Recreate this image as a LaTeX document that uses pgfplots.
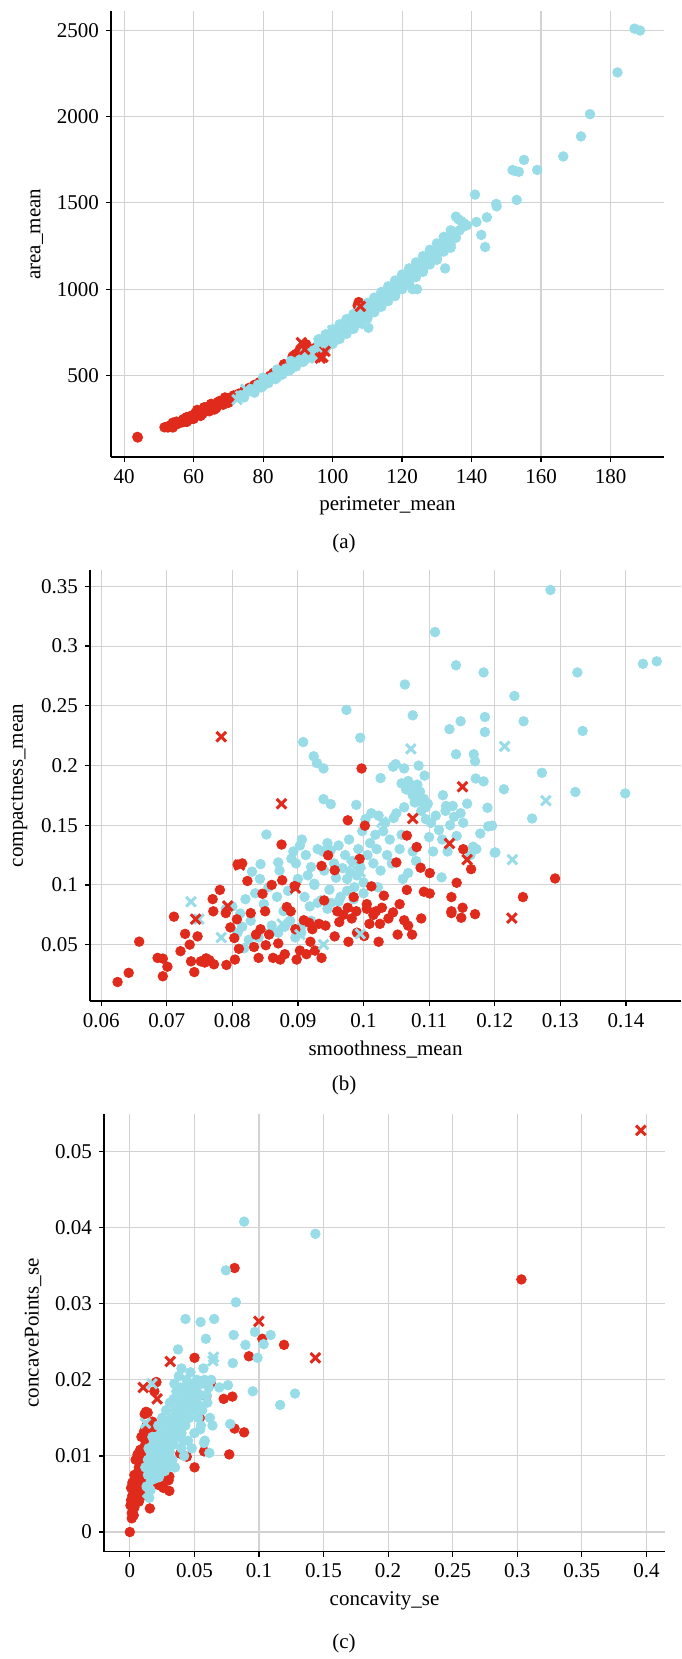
\documentclass[border=0pt]{standalone}
\usepackage{fontspec}
\setmainfont{Liberation Serif}
\usepackage{pgfplots}
\pgfplotsset{compat=1.18}
\newcommand\fs{\fontsize{10.5}{12.6}\selectfont}
\definecolor{redc}{RGB}{224,42,28}
\definecolor{bluec}{RGB}{152,220,232}
\definecolor{gridc}{RGB}{210,210,210}
\pgfplotsset{
  panel/.style={
    scale only axis, anchor=south west, font=\fs,
    axis x line*=bottom, axis y line*=left,
    axis line style={-, line width=0.7pt, black},
    grid=major, major grid style={line width=0.55pt, gridc},
    tick align=outside, major tick length=2.5pt,
    tick style={line width=0.6pt, black},
    scaled ticks=false,
    /pgf/number format/assume math mode=true,
    /pgf/number format/1000 sep={},
    /pgf/number format/fixed,
    /pgf/number format/precision=2,
  },
  rdot/.style={only marks, mark=*, mark size=2.4pt, mark options={fill=redc, draw=redc}},
  bdot/.style={only marks, mark=*, mark size=2.4pt, mark options={fill=bluec, draw=bluec}},
  rx/.style={only marks, mark=x, mark size=3.4pt, mark options={draw=redc, line width=1.5pt}},
  bx/.style={only marks, mark=x, mark size=3.4pt, mark options={draw=bluec, line width=1.5pt}},
}
\begin{document}
\begin{tikzpicture}[font=\fs]
\path[use as bounding box] (0,0) rectangle (340.5pt,829.5pt);

% (a)
\begin{axis}[panel, at={(55.5pt,601pt)}, width=276.5pt, height=222.8pt,
  xmin=36.2, xmax=195.4, ymin=27, ymax=2610,
  xtick={40,60,...,180}, ytick={500,1000,1500,2000,2500},
  xlabel={perimeter\_mean}, ylabel={area\_mean}]
\addplot[rdot] coordinates {
(43.8,143.5)(43.9,140)(51.6,199)(52.1,201)(52.6,198)(53.0,206)(53.4,212)(53.9,208)(54.3,215)(54.8,222)
(55.2,217)(55.6,228)(56.0,224)(56.5,234)(56.9,229)(57.3,240)(57.8,236)(58.2,247)(58.6,243)(59.0,255)
(59.3,249)(59.7,262)(60.0,258)(60.3,270)(60.6,264)(60.9,273)(61.2,280)(61.5,276)(61.8,286)(62.1,281)
(62.4,291)(62.7,288)(63.0,297)(63.3,292)(63.6,302)(63.9,298)(64.2,307)(64.5,303)(64.8,313)(65.1,309)
(65.4,318)(65.7,314)(66.0,324)(66.3,320)(66.6,329)(66.9,325)(67.2,335)(67.5,331)(67.8,340)(68.1,336)
(68.4,346)(68.7,342)(69.0,352)(69.3,348)(69.6,358)(69.9,354)(70.2,362)(70.5,368)(59.5,268)(61.0,290)
(62.0,296)(64.0,318)(66.5,336)(58.0,256)(60.5,282)(63.5,312)(65.5,328)(67.0,346)(68.5,356)(69.5,366)
(55.0,232)(57.0,246)(60.0,248)(62.5,276)(64.5,292)(66.5,310)(68.5,330)(70.0,345)(61.0,300)(63.0,315)
(65.0,335)(67.5,352)(69.0,372)(54,226)(54,198)(58,258)(58,230)(62,293)(62,265)(66,330)(66,302)(70,369)(70,341)
(71.5,384)(73.0,394)(74.5,410)(76.0,428)(77.5,445)(79.0,462)(80.5,482)(82.0,498)
(84.0,522)(85.5,540)(87.0,556)(88.5,610)(89.5,625)(90.3,640)(91.0,655)(91.8,668)(92.4,680)(90.8,632)
(89.0,618)(98.5,700)(102,760)(107.2,905)(107.5,925)(86.0,565)(83.0,515)(95.0,660)
};
\addplot[bdot] coordinates {
(73.5,385)(74.5,372)(75.5,405)(76.5,420)(77.5,400)(78.5,445)(79.5,430)(80.5,470)(81.5,455)(82.5,490)
(83.5,478)(84.5,515)(85.5,505)(86.5,540)(87.5,528)(88.5,565)(89.5,552)(90.5,590)(91.5,578)(92.5,618)
(93.5,605)(94.5,645)(95.5,632)(96.5,672)(97.5,660)(98.5,700)(99.5,690)(100.5,730)(101.5,716)(102.5,758)
(103.5,745)(104.5,790)(105.5,775)(106.5,818)(107.5,805)(108.5,850)(109.5,836)(110.5,880)(111.5,868)(112.5,915)
(113.5,900)(114.5,948)(115.5,935)(116.5,980)(117.5,968)(118.5,1015)(119.5,1002)(120.5,1050)(121.5,1038)(122.5,1085)
(123.5,1072)(124.5,1120)(125.5,1108)(126.5,1158)(127.5,1145)(128.5,1195)(129.5,1182)(130.5,1232)(131.5,1220)(132.5,1270)
(133.5,1258)(134.5,1310)(135.5,1298)(136.5,1340)(137.5,1360)
(96,690)(99,715)(101,705)(103,775)(105,800)(107,830)(109,860)(111,890)(113,925)(115,960)
(117,1000)(119,1030)(121,1065)(123,1100)(125,1135)(127,1170)(129,1210)(131,1250)(133,1290)(135,1320)
(132,1235)(130,1200)(128,1160)(126,1125)(124,1090)(99,680)(97,650)(94,620)(91,595)(88,545)(86,520)
(100,760)(104,820)(108,880)(112,940)(116,1010)(120,1080)(124,1150)(128,1220)(132,1300)(95,610)(102,720)
(106,770)(110,830)(114,900)(118,960)(122,1030)(126,1100)(130,1170)(134,1240)
(96,710)(96,625)(98,738)(98,653)(100,767)(100,682)(102,796)(102,711)(104,826)(104,741)(106,856)(106,771)
(108,887)(108,802)(110,919)(110,834)(112,951)(112,866)(114,983)(114,898)(116,1016)(116,931)(118,1050)(118,965)
(120,1085)(120,1000)(122,1120)(122,1035)(124,1155)(124,1070)(126,1191)(126,1106)(128,1228)(128,1143)
(130,1265)(130,1180)(132,1303)(132,1218)(134,1341)(134,1256)
(80,487)(80,440)(84,534)(84,487)(88,584)(88,537)(92,636)(92,589)
(110.3,776)(123,1000)(124.3,1000)(132.4,1120)(135.5,1420)(136.2,1405)(137,1395)(137.8,1382)(138.6,1370)
(141,1548)(141.4,1389)(142.8,1314)(143.9,1244)(144.4,1416)(147.1,1494)(147.2,1480)(153,1517)
(151.8,1690)(153.6,1680)(152.5,1685)(155.1,1749)(158.9,1691)(166.4,1769)(171.5,1885)(174.1,2014)
(182,2256)(186.9,2510)(188.5,2499)
};
\addplot[rx] coordinates {(97.2,606)(96.5,600)(97.8,640)(92,650)(108,900)(91,690)};
\addplot[bx] coordinates {(72.5,360)(73.5,380)(75,420)(81,470)(93,600)(96,690)(100,760)(107.5,800)};
\end{axis}
\node at (172pt,558pt) {(a)};

% (b)
\begin{axis}[panel, at={(45pt,329pt)}, width=295.5pt, height=215.5pt,
  xmin=0.0583, xmax=0.1484, ymin=0.0028, ymax=0.3637,
  xtick={0.06,0.07,0.08,0.09,0.1,0.11,0.12,0.13,0.14},
  ytick={0.05,0.1,0.15,0.2,0.25,0.3,0.35},
  xlabel={smoothness\_mean}, ylabel={compactness\_mean}]
\addplot[bdot] coordinates {
(0.1285,0.347)(0.1109,0.3117)(0.1141,0.2839)(0.1183,0.2779)(0.1326,0.2779)(0.1426,0.2851)(0.1447,0.2872)
(0.1063,0.2678)(0.1230,0.2582)(0.0974,0.2465)(0.1075,0.2420)(0.1185,0.2406)(0.1148,0.2370)(0.1244,0.2370)
(0.1131,0.2304)(0.1185,0.2280)(0.1334,0.2289)(0.0908,0.2196)(0.0995,0.2232)(0.1141,0.2094)(0.1168,0.2094)
(0.1170,0.2035)(0.0924,0.2077)(0.0929,0.2020)(0.0939,0.1975)(0.1045,0.1990)(0.1049,0.2011)(0.1062,0.1975)
(0.1084,0.1999)(0.1093,0.1915)(0.1026,0.1894)(0.1272,0.1939)(0.1214,0.1801)(0.1171,0.1891)(0.1183,0.1867)
(0.1323,0.1778)(0.1399,0.1766)(0.0939,0.1718)(0.0950,0.1676)(0.0989,0.1670)(0.1121,0.1751)(0.1126,0.1661)
(0.1136,0.1661)(0.1189,0.1646)(0.1257,0.1556)(0.1196,0.1496)(0.1201,0.1272)(0.1119,0.1063)(0.0852,0.1422)
(0.0870,0.1188)(0.0830,0.1111)(0.0843,0.1174)
(0.1058,0.1850)(0.1066,0.1800)(0.1076,0.1830)(0.1086,0.1780)(0.1090,0.1700)(0.1095,0.1650)(0.1080,0.1720)
(0.0800,0.0820)(0.0812,0.0760)(0.0820,0.0880)(0.0828,0.0700)(0.0835,0.0930)(0.0842,0.1050)(0.0848,0.0840)
(0.0855,0.0980)(0.0860,0.0660)(0.0868,0.0900)(0.0872,0.1120)(0.0878,0.0780)(0.0885,0.0950)(0.0890,0.1220)
(0.0893,0.1280)(0.0897,0.1180)(0.0900,0.1050)(0.0903,0.1330)(0.0906,0.1380)(0.0910,0.0900)(0.0912,0.1250)
(0.0915,0.1080)(0.0918,0.0820)(0.0920,0.1150)(0.0925,0.1010)(0.0930,0.1300)(0.0935,0.0870)(0.0938,0.1280)
(0.0940,0.1120)(0.0945,0.1350)(0.0948,0.0960)(0.0950,0.1290)(0.0955,0.1180)(0.0958,0.1060)(0.0962,0.1330)
(0.0965,0.0900)(0.0968,0.1140)(0.0972,0.1250)(0.0975,0.1050)(0.0978,0.1380)(0.0980,0.1100)(0.0983,0.1200)
(0.0986,0.0980)(0.0990,0.1080)(0.0992,0.1300)(0.0995,0.1150)(0.0998,0.1450)(0.1000,0.1020)(0.1003,0.1550)
(0.1006,0.1250)(0.1010,0.1350)(0.1012,0.1600)(0.1015,0.1180)(0.1018,0.1420)(0.1020,0.1300)(0.1023,0.1580)
(0.1026,0.1120)(0.1030,0.1450)(0.1033,0.1520)(0.1036,0.1250)(0.1040,0.1380)(0.1043,0.1180)(0.1046,0.1560)
(0.1050,0.1600)(0.1055,0.1300)(0.1058,0.1420)(0.1062,0.1650)(0.1065,0.1800)(0.1068,0.1870)(0.1072,0.1820)
(0.1075,0.1750)(0.1078,0.1690)(0.1082,0.1840)(0.1085,0.1700)(0.1088,0.1620)(0.1092,0.1720)(0.1095,0.1550)
(0.1098,0.1680)(0.1100,0.1400)(0.1103,0.1520)(0.1106,0.1280)(0.1110,0.1580)(0.1115,0.1460)(0.1120,0.1380)
(0.1125,0.1620)(0.1128,0.1280)(0.1132,0.1500)(0.1138,0.1570)(0.1142,0.1410)(0.1148,0.1600)(0.1152,0.1520)
(0.1158,0.1680)(0.1163,0.1250)(0.1167,0.1320)(0.1172,0.1300)(0.1178,0.1430)(0.1190,0.1490)(0.1200,0.1270)
(0.1075,0.1280)(0.1068,0.1100)(0.1080,0.1200)(0.1060,0.1050)(0.0975,0.0950)(0.0962,0.0860)(0.0950,0.0850)
(0.0945,0.0800)(0.0920,0.0700)(0.0905,0.0650)(0.0888,0.0700)(0.0880,0.0650)(0.0870,0.0600)(0.0858,0.0600)
(0.0840,0.0560)(0.0825,0.0540)(0.0815,0.0650)(0.0790,0.0800)(0.0808,0.0600)(0.0818,0.0470)(0.0838,0.0580)
(0.0896,0.0560)(0.0905,0.0600)(0.0985,0.0880)(0.1000,0.0930)(0.1022,0.0980)(0.0930,0.0850)(0.0925,0.1000)
};
\addplot[rdot] coordinates {
(0.0625,0.0187)(0.0642,0.0264)(0.0658,0.0525)(0.0686,0.0389)(0.0694,0.0383)(0.0694,0.0235)(0.0701,0.0315)
(0.0711,0.0734)(0.0721,0.0445)(0.0728,0.0590)(0.0735,0.0500)(0.0737,0.0360)(0.0742,0.0270)(0.0747,0.0569)
(0.0752,0.0360)(0.0758,0.0350)(0.0765,0.0370)(0.0772,0.0335)(0.0760,0.0385)(0.0770,0.0881)(0.0771,0.0779)
(0.0781,0.0958)(0.0790,0.0764)(0.0791,0.0330)(0.0797,0.0644)(0.0803,0.0555)(0.0804,0.0375)(0.0807,0.0712)
(0.0810,0.0465)(0.0823,0.1033)(0.0828,0.0764)(0.0833,0.0480)(0.0836,0.0584)(0.0840,0.0389)(0.0843,0.0629)
(0.0846,0.0926)(0.0850,0.0779)(0.0851,0.0495)(0.0856,0.0584)(0.0862,0.0389)(0.0870,0.0510)(0.0873,0.0375)
(0.0875,0.1338)(0.0876,0.1039)(0.0880,0.0420)(0.0883,0.0815)(0.0889,0.0779)(0.0896,0.0629)(0.0898,0.0375)
(0.0903,0.0450)(0.0909,0.0704)(0.0913,0.0420)(0.0917,0.0683)(0.0919,0.0524)(0.0922,0.0629)(0.0926,0.0450)
(0.0932,0.0674)(0.0936,0.1159)(0.0936,0.0389)(0.0942,0.0659)(0.0946,0.1248)(0.0956,0.1123)(0.0956,0.0569)
(0.0960,0.0779)(0.0963,0.0689)(0.0969,0.0749)(0.0976,0.0809)(0.0977,0.0524)(0.0982,0.0719)(0.0985,0.0898)
(0.0989,0.0779)(0.0994,0.1218)(0.0997,0.1975)(0.1001,0.0572)(0.1002,0.1496)(0.1005,0.0839)(0.1009,0.0674)
(0.1012,0.0988)(0.1015,0.0749)(0.1019,0.0779)(0.1023,0.0524)(0.1025,0.0674)(0.1028,0.0809)(0.1031,0.0910)
(0.1038,0.0719)(0.1045,0.0770)(0.1050,0.1188)(0.1052,0.0584)(0.1055,0.0839)(0.1062,0.0704)(0.1066,0.0958)
(0.1066,0.1413)(0.1068,0.0659)(0.1074,0.0584)(0.1081,0.1317)(0.1087,0.1144)(0.1088,0.0719)(0.1092,0.0943)
(0.1101,0.0928)(0.1101,0.1099)(0.1134,0.0898)(0.1134,0.0779)(0.1134,0.0764)(0.1142,0.1018)(0.1149,0.0725)
(0.1151,0.0809)(0.1152,0.1299)(0.1164,0.1132)(0.1170,0.0755)(0.1243,0.0898)(0.1292,0.1054)(0.0976,0.1541)
(0.0815,0.1180)(0.0808,0.1170)(0.0860,0.1000)(0.0895,0.0990)(0.0940,0.0870)(0.0990,0.0600)(0.1005,0.0800)
};
\addplot[bx] coordinates {(0.0737,0.0859)(0.0749,0.0713)(0.0783,0.0560)(0.1072,0.2139)(0.1215,0.2160)
(0.1278,0.1706)(0.1227,0.1212)(0.0995,0.0590)(0.0939,0.0501)(0.0903,0.0584)(0.0995,0.1108)(0.0982,0.1167)
(0.1028,0.1526)(0.0876,0.0674)};
\addplot[rx] coordinates {(0.0783,0.2241)(0.0875,0.1679)(0.0811,0.1167)(0.1151,0.1822)(0.1075,0.1556)
(0.1131,0.1347)(0.1226,0.0722)(0.0744,0.0713)(0.0793,0.0824)(0.0896,0.0973)(0.1158,0.1212)};
\end{axis}
\node at (172pt,287pt) {(b)};

% (c)
\begin{axis}[panel, at={(52pt,53.6pt)}, width=280.5pt, height=219.1pt,
  xmin=-0.02, xmax=0.4144, ymin=-0.0026, ymax=0.055,
  xtick={0,0.05,0.1,0.15,0.2,0.25,0.3,0.35,0.4},
  ytick={0,0.01,0.02,0.03,0.04,0.05},
  xlabel={concavity\_se}, ylabel={concavePoints\_se}]
\addplot[rdot] coordinates {
(0.0,0.0)(0.0005,0.0035)(0.001,0.0042)(0.0015,0.0025)(0.002,0.0048)(0.0025,0.0038)(0.003,0.0055)(0.0035,0.0032)
(0.004,0.0062)(0.0045,0.0045)(0.005,0.0070)(0.0055,0.0052)(0.006,0.0078)(0.0065,0.0060)(0.007,0.0085)(0.0075,0.0068)
(0.008,0.0092)(0.0085,0.0075)(0.009,0.0100)(0.0095,0.0082)(0.010,0.0105)(0.0105,0.0090)(0.011,0.0110)(0.0115,0.0095)
(0.012,0.0115)(0.0125,0.0100)(0.013,0.0120)(0.0135,0.0105)(0.014,0.0125)(0.015,0.0110)(0.016,0.0118)(0.017,0.0128)
(0.018,0.0135)(0.0015,0.0018)(0.003,0.0022)(0.004,0.0040)(0.006,0.0050)(0.007,0.0040)(0.008,0.0055)(0.010,0.0060)
(0.012,0.0065)(0.014,0.0070)(0.016,0.0075)(0.018,0.0068)(0.020,0.0080)(0.022,0.0062)(0.024,0.0070)(0.026,0.0058)
(0.028,0.0075)(0.030,0.0068)(0.025,0.0085)(0.0045,0.0095)(0.006,0.0102)(0.008,0.0108)(0.011,0.0132)(0.013,0.0140)
(0.0115,0.0155)(0.0125,0.0158)(0.009,0.0125)(0.0035,0.0075)(0.002,0.0065)(0.001,0.0058)(0.0105,0.0048)(0.015,0.0088)
(0.0175,0.0145)(0.019,0.0185)(0.0205,0.0197)(0.0155,0.0031)(0.0306,0.0054)(0.0306,0.0073)(0.0138,0.0157)
(0.3032,0.0332)(0.0811,0.0347)(0.0501,0.0229)(0.0922,0.0231)(0.1026,0.0254)(0.1194,0.0246)(0.0626,0.0196)
(0.0727,0.0175)(0.0794,0.0178)(0.0811,0.0136)(0.0885,0.0131)(0.0770,0.0102)(0.0501,0.0085)(0.0205,0.0197)
(0.0575,0.0106)(0.0441,0.0099)(0.0390,0.0103)(0.0592,0.0178)(0.0542,0.0150)
};
\addplot[bdot] coordinates {
(0.013,0.0060)(0.014,0.0075)(0.015,0.0090)(0.016,0.0055)(0.017,0.0080)(0.018,0.0100)(0.019,0.0070)(0.020,0.0090)
(0.021,0.0110)(0.022,0.0080)(0.023,0.0120)(0.024,0.0100)(0.025,0.0090)(0.026,0.0130)(0.027,0.0110)(0.028,0.0095)
(0.029,0.0140)(0.030,0.0120)(0.031,0.0105)(0.032,0.0150)(0.033,0.0130)(0.034,0.0115)(0.035,0.0160)(0.036,0.0140)
(0.037,0.0125)(0.038,0.0170)(0.039,0.0150)(0.040,0.0130)(0.041,0.0180)(0.042,0.0160)(0.043,0.0140)(0.044,0.0200)
(0.045,0.0170)(0.046,0.0150)(0.047,0.0210)(0.048,0.0180)(0.049,0.0160)(0.050,0.0190)(0.052,0.0170)(0.053,0.0150)
(0.055,0.0180)(0.056,0.0160)(0.058,0.0200)(0.060,0.0170)(0.062,0.0150)(0.064,0.0140)(0.038,0.0205)(0.040,0.0215)
(0.036,0.0185)(0.025,0.0150)(0.022,0.0140)(0.020,0.0125)(0.018,0.0115)(0.027,0.0080)(0.033,0.0095)(0.040,0.0110)
(0.045,0.0120)(0.050,0.0130)(0.035,0.0085)(0.030,0.0085)(0.042,0.0100)(0.055,0.0140)(0.058,0.0120)(0.048,0.0110)
(0.052,0.0200)(0.046,0.0195)(0.034,0.0175)(0.028,0.0160)(0.031,0.0170)(0.024,0.0130)(0.016,0.0105)(0.014,0.0095)
(0.012,0.0085)(0.015,0.0045)(0.043,0.0175)(0.061,0.0190)(0.057,0.0215)(0.063,0.0200)
(0.0165,0.0068)(0.0185,0.0088)(0.0215,0.0098)(0.0235,0.0112)(0.0255,0.0122)(0.0275,0.0128)(0.0295,0.0112)
(0.0315,0.0138)(0.0335,0.0148)(0.0355,0.0128)(0.0375,0.0158)(0.0395,0.0168)(0.0415,0.0145)(0.0435,0.0188)
(0.0455,0.0185)(0.0475,0.0170)(0.0495,0.0175)(0.0515,0.0185)(0.0535,0.0165)(0.0555,0.0195)(0.0225,0.0072)
(0.0265,0.0100)(0.0325,0.0118)(0.0385,0.0138)(0.0445,0.0155)(0.0505,0.0160)(0.0545,0.0135)(0.0285,0.0145)
(0.0345,0.0195)(0.0395,0.0190)(0.0205,0.0105)(0.0175,0.0125)(0.0145,0.0110)(0.0595,0.0180)(0.0415,0.0120)
(0.0885,0.0408)(0.1437,0.0392)(0.0744,0.0344)(0.0821,0.0302)(0.0431,0.0280)(0.0548,0.0276)(0.0653,0.0280)
(0.0589,0.0254)(0.0804,0.0259)(0.0969,0.0263)(0.0895,0.0246)(0.1036,0.0247)(0.1090,0.0259)(0.0373,0.0240)
(0.0989,0.0229)(0.0797,0.0222)(0.0760,0.0193)(0.0952,0.0185)(0.1279,0.0182)(0.1164,0.0167)(0.0693,0.0190)
(0.0777,0.0142)(0.0616,0.0104)(0.0575,0.0117)
};
\addplot[rx] coordinates {(0.3957,0.0528)(0.0999,0.0277)(0.1437,0.0229)(0.0313,0.0224)(0.0104,0.0190)(0.0212,0.0175)};
\addplot[bx] coordinates {(0.0649,0.0230)(0.0172,0.0195)(0.0121,0.0143)(0.0138,0.0052)(0.0643,0.0225)};
\end{axis}
\node at (172pt,8pt) {(c)};
\end{tikzpicture}
\end{document}
